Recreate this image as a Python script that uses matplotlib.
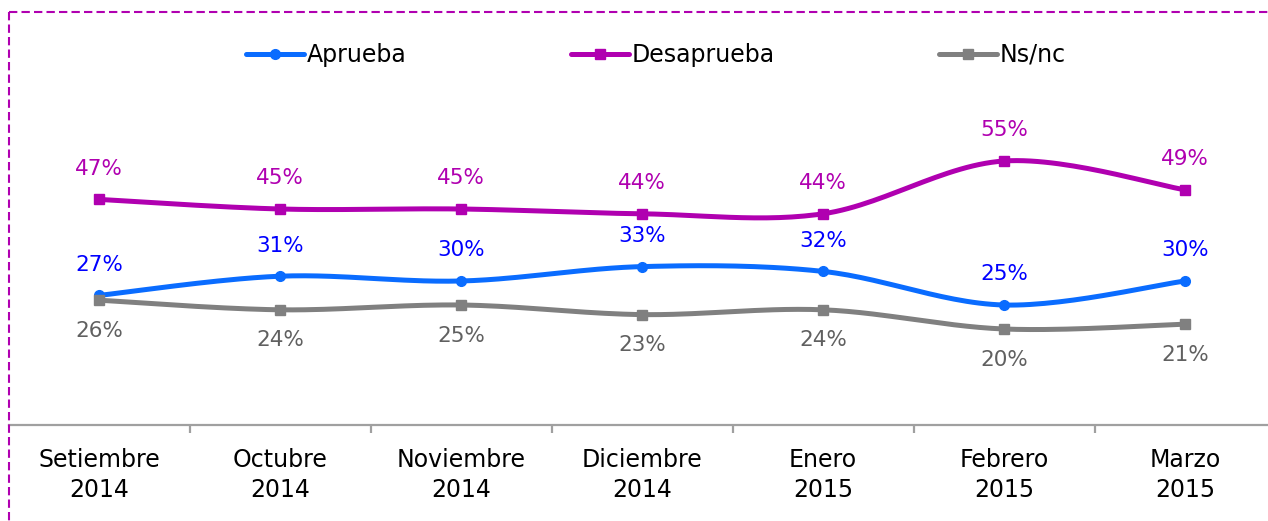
import numpy as np
import matplotlib
matplotlib.use("Agg")
import matplotlib.pyplot as plt
from matplotlib.lines import Line2D

categories = ["Setiembre\n2014", "Octubre\n2014", "Noviembre\n2014", "Diciembre\n2014",
              "Enero\n2015", "Febrero\n2015", "Marzo\n2015"]
aprueba = [27, 31, 30, 33, 32, 25, 30]
desaprueba = [47, 45, 45, 44, 44, 55, 49]
nsnc = [26, 24, 25, 23, 24, 20, 21]

series = [
    ("Aprueba", aprueba, "#0A6CFF", "#0000FF", "o", 1),
    ("Desaprueba", desaprueba, "#B000B0", "#B000B0", "s", 1),
    ("Ns/nc", nsnc, "#808080", "#606060", "s", -1),
]

plt.rcParams['font.family'] = ['DejaVu Sans']

W, H = 1268, 521
fig = plt.figure(figsize=(W / 100, H / 100), dpi=100)

# axes geometry in pixels
x_left, x_right = 9, 1268
y_axis, y_top = 425, 12
ax = fig.add_axes([x_left / W, (H - y_axis) / H, (x_right - x_left) / W, (y_axis - y_top) / H])

step = 181.0
x0 = 99.0
ax.set_xlim((x_left - x0) / step, (x_right - x0) / step)
ppu = 4.8
ax.set_ylim(0, (y_axis - y_top) / ppu)


def smooth(xs, ys, n=30):
    xs = np.asarray(xs, float)
    ys = np.asarray(ys, float)
    px = np.concatenate([[xs[0]], xs, [xs[-1]]])
    py = np.concatenate([[ys[0]], ys, [ys[-1]]])
    outx, outy = [], []
    t = np.linspace(0, 1, n)
    for i in range(1, len(px) - 2):
        p0 = np.array([px[i], py[i]])
        p3 = np.array([px[i + 1], py[i + 1]])
        c1 = p0 + (np.array([px[i + 1], py[i + 1]]) - np.array([px[i - 1], py[i - 1]])) / 6
        c2 = p3 - (np.array([px[i + 2], py[i + 2]]) - np.array([px[i], py[i]])) / 6
        b = ((1 - t) ** 3)[:, None] * p0 + (3 * (1 - t) ** 2 * t)[:, None] * c1 + \
            (3 * (1 - t) * t ** 2)[:, None] * c2 + (t ** 3)[:, None] * p3
        outx.extend(b[:, 0])
        outy.extend(b[:, 1])
    return outx, outy


xs = np.arange(len(categories))
handles = []
for name, vals, lc, tc, mk, side in series:
    sx, sy = smooth(xs, vals)
    ax.plot(sx, sy, color=lc, lw=3.6, solid_capstyle='round', zorder=3)
    ax.plot(xs, vals, linestyle='none', marker=mk, ms=7, color=lc, zorder=4)
    for x, v in zip(xs, vals):
        ax.annotate(f"{v}%", (x, v), xytext=(0, 22 * side), textcoords='offset points',
                    ha='center', va='center', color=tc, fontsize=15.5)
    handles.append(Line2D([], [], color=lc, lw=3.6, marker=mk, ms=7, solid_capstyle='round'))

leg = fig.legend(handles, [s[0] for s in series], loc='center', ncol=3,
                 bbox_to_anchor=(656 / W, (H - 55) / H), frameon=False, fontsize=17,
                 handlelength=2.45, handletextpad=0.13, columnspacing=6.95)

for s in ['top', 'right', 'left']:
    ax.spines[s].set_visible(False)
ax.spines['bottom'].set_color('#A0A0A0')
ax.spines['bottom'].set_linewidth(1.6)
ax.set_yticks([])
ax.set_xticks(np.arange(len(categories) - 1) + 0.5)
ax.set_xticklabels([])
ax.tick_params(axis='x', which='major', length=6, width=1.6, color='#A0A0A0', direction='out')
ax.set_xticks(xs, minor=True)
ax.set_xticklabels(categories, minor=True, fontsize=17, linespacing=1.3)
ax.tick_params(axis='x', which='minor', length=0, pad=16.5)

# dashed border
bc = "#B000B0"
fig.add_artist(Line2D([x_left / W, 1.0], [(H - y_top) / H] * 2, transform=fig.transFigure,
                      color=bc, lw=1.5, ls=(0, (4, 2))))
fig.add_artist(Line2D([x_left / W] * 2, [(H - y_top) / H, 0], transform=fig.transFigure,
                      color=bc, lw=1.5, ls=(0, (4, 2))))

fig.savefig("out.png", dpi=100)
